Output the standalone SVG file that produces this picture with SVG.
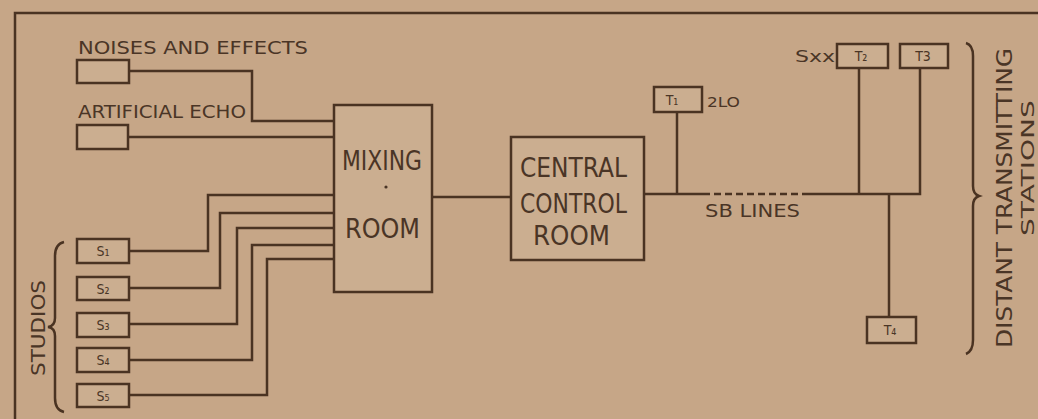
<svg xmlns="http://www.w3.org/2000/svg" width="1038" height="419" viewBox="0 0 1038 419">
<style>
.ln{fill:none;stroke:#4a3322;stroke-width:2.5;stroke-linejoin:miter}
.bx{fill:#cbae90;stroke:#4a3322;stroke-width:2.5}
.tx{font-family:"DejaVu Sans Condensed","DejaVu Sans",sans-serif;fill:#4a3526}
.lb{font-size:17px}
.big{font-size:27px}
.sm{font-size:14px;text-anchor:middle}
</style>
<rect width="1038" height="419" fill="#c6a687"/>
<g id="frame"><path class="ln" d="M15,419 V13 H1038"/></g>
<g id="connectors">
<path class="ln" d="M129,71 H252 V121 H334"/>
<path class="ln" d="M129,137 H334"/>
<path class="ln" d="M129,251 H208 V195 H334"/>
<path class="ln" d="M129,288 H220 V213 H334"/>
<path class="ln" d="M129,324 H237 V228 H334"/>
<path class="ln" d="M129,360 H252 V245 H334"/>
<path class="ln" d="M129,395 H267 V259 H334"/>
<path class="ln" d="M432,197 H511"/>
<path class="ln" d="M644,194 H703"/>
<path class="ln" d="M703,194 H807" stroke-dasharray="7,4"/>
<path class="ln" d="M807,194 H920 V68"/>
<path class="ln" d="M677,112 V194"/>
<path class="ln" d="M859,68 V194"/>
<path class="ln" d="M889,194 V316"/>
<text class="tx lb" x="705" y="217" textLength="95" lengthAdjust="spacingAndGlyphs">SB LINES</text>
</g>
<g id="noises"><rect class="bx" x="77" y="60" width="52" height="23"/>
<text class="tx lb" x="78" y="54" textLength="230" lengthAdjust="spacingAndGlyphs">NOISES AND EFFECTS</text></g>
<g id="echo"><rect class="bx" x="77" y="125" width="51" height="24"/>
<text class="tx lb" x="78" y="118" textLength="168" lengthAdjust="spacingAndGlyphs">ARTIFICIAL ECHO</text></g>
<g id="mixing"><rect class="bx" x="334" y="105" width="98" height="187"/>
<text class="tx big" x="342" y="170" textLength="80" lengthAdjust="spacingAndGlyphs">MIXING</text>
<circle cx="386" cy="187" r="1.6" fill="#4a3526"/>
<text class="tx big" x="345" y="238" textLength="75" lengthAdjust="spacingAndGlyphs">ROOM</text></g>
<g id="central"><rect class="bx" x="511" y="137" width="133" height="123"/>
<text class="tx big" x="520" y="177" textLength="107" lengthAdjust="spacingAndGlyphs">CENTRAL</text>
<text class="tx big" x="520" y="213" textLength="107" lengthAdjust="spacingAndGlyphs">CONTROL</text>
<text class="tx big" x="533" y="245" textLength="77" lengthAdjust="spacingAndGlyphs">ROOM</text></g>
<g id="t1"><rect class="bx" x="654" y="87" width="48" height="25"/>
<text class="tx sm" x="672" y="105">T₁</text>
<text class="tx" x="707" y="107" font-size="14" textLength="33" lengthAdjust="spacingAndGlyphs">2LO</text></g>
<g id="t2"><rect class="bx" x="837" y="44" width="51" height="24"/>
<text class="tx sm" x="861" y="61">T₂</text>
<text class="tx" x="795" y="62" font-size="15" textLength="40" lengthAdjust="spacingAndGlyphs">Sxx</text></g>
<g id="t3"><rect class="bx" x="900" y="44" width="48" height="24"/>
<text class="tx sm" x="923" y="61">T3</text></g>
<g id="t4"><rect class="bx" x="867" y="317" width="49" height="26"/>
<text class="tx sm" x="890" y="335">T₄</text></g>
<g id="studios">
<rect class="bx" x="77" y="239" width="52" height="24"/><text class="tx sm" x="103" y="256">S₁</text>
<rect class="bx" x="77" y="277" width="52" height="23"/><text class="tx sm" x="103" y="294">S₂</text>
<rect class="bx" x="77" y="313" width="52" height="24"/><text class="tx sm" x="103" y="330">S₃</text>
<rect class="bx" x="77" y="348" width="52" height="24"/><text class="tx sm" x="103" y="365">S₄</text>
<rect class="bx" x="77" y="384" width="52" height="23"/><text class="tx sm" x="103" y="401">S₅</text>
<path class="ln" d="M64,242 Q55,244 55,256 V318 Q55,326 48,327 Q55,328 55,336 V398 Q55,410 64,412" stroke-width="2"/>
<text class="tx" font-size="20" transform="translate(45,328) rotate(-90)" text-anchor="middle" textLength="96" lengthAdjust="spacingAndGlyphs">STUDIOS</text>
</g>
<g id="distant">
<path class="ln" d="M966,43 Q973,45 973,56 V186 Q973,194 979,196 Q973,198 973,206 V340 Q973,351 966,354" stroke-width="2"/>
<text class="tx" font-size="21" transform="translate(1012,198) rotate(-90)" text-anchor="middle" textLength="300" lengthAdjust="spacingAndGlyphs">DISTANT TRANSMITTING</text>
<text class="tx" font-size="17" transform="translate(1034,168) rotate(-90)" text-anchor="middle" textLength="136" lengthAdjust="spacingAndGlyphs">STATIONS</text>
</g>
</svg>
